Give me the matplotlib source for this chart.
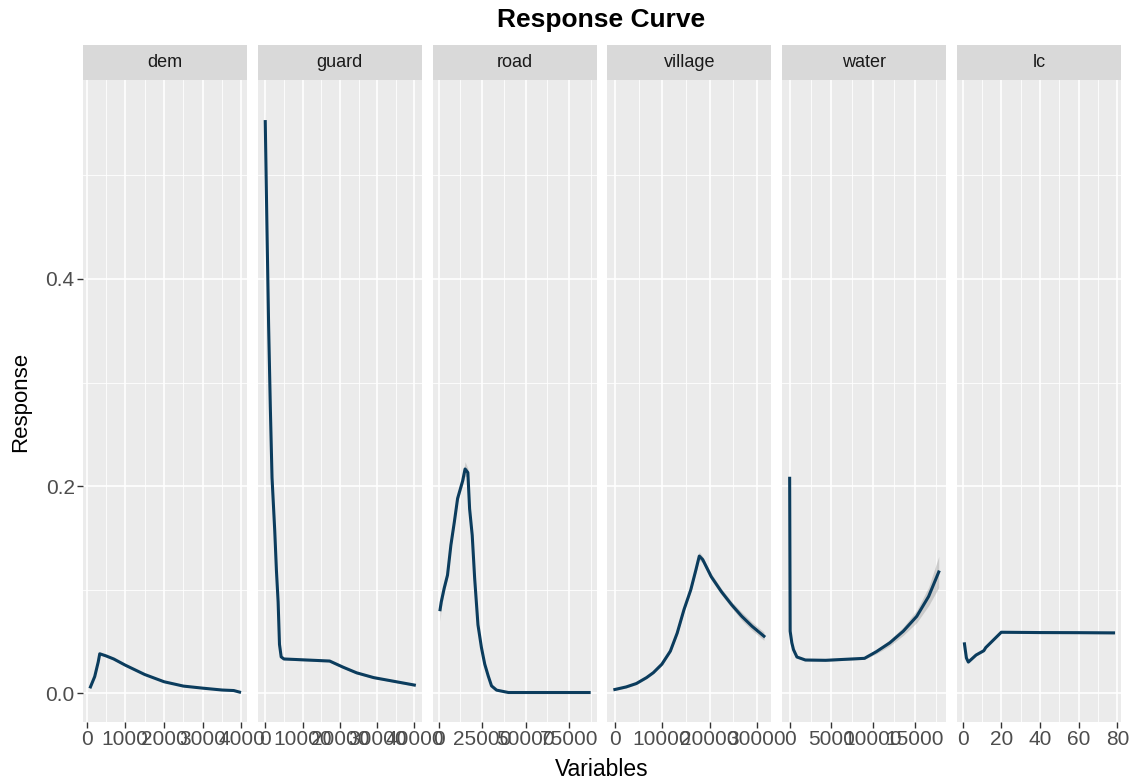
import matplotlib
matplotlib.use("Agg")
import matplotlib.pyplot as plt
import numpy as np

plt.rcParams["font.family"] = ["Liberation Sans", "DejaVu Sans"]

# panel names (facets)
panels = ["dem", "guard", "road", "village", "water", "lc"]

# response curves
dem_x = [100, 210, 300, 340, 500, 700, 1000, 1500, 2000, 2500, 3000, 3500, 3800, 3950]
dem_y = [0.006, 0.016, 0.030, 0.038, 0.036, 0.033, 0.027, 0.018, 0.011, 0.0068, 0.0048, 0.003, 0.0025, 0.001]
dem_se = [0.001, 0.001, 0.001, 0.001, 0.001, 0.001, 0.0008, 0.0006, 0.0005, 0.0005, 0.0004, 0.0004, 0.0004, 0.0004]

guard_x = [0, 450, 900, 1360, 1816, 2540, 3000, 3450, 3815, 4270, 5000, 17260, 20900, 24500, 29050, 33600, 39960]
guard_y = [0.552, 0.451, 0.355, 0.276, 0.208, 0.157, 0.118, 0.088, 0.047, 0.035, 0.033, 0.031, 0.025, 0.0196, 0.015, 0.012, 0.0078]
guard_se = [0.012, 0.006, 0.004, 0.003, 0.002, 0.002, 0.001, 0.001, 0.001, 0.001, 0.001, 0.001, 0.001, 0.001, 0.001, 0.001, 0.001]

road_x = [818, 1500, 3150, 5100, 7050, 9000, 10900, 13800, 15200, 16800, 17800, 19300, 20700, 22600,
          24600, 26500, 28500, 30400, 33300, 40100, 86500]
road_y = [0.0806, 0.088, 0.101, 0.114, 0.143, 0.165, 0.188, 0.205, 0.2165, 0.213, 0.178, 0.1525, 0.111, 0.066,
          0.044, 0.028, 0.0166, 0.007, 0.0029, 0.0006, 0.0006]
road_se = [0.011, 0.006, 0.004, 0.003, 0.003, 0.003, 0.003, 0.004, 0.007, 0.004, 0.002, 0.002, 0.002, 0.001,
           0.001, 0.001, 0.0005, 0.0005, 0.0005, 0.0003, 0.0003]

village_x = [0, 2400, 4550, 6700, 8140, 9940, 11730, 13170, 14600, 16040, 17120, 17840, 18560, 20360,
             22510, 24670, 26820, 28980, 31500]
village_y = [0.0035, 0.006, 0.0093, 0.015, 0.0198, 0.028, 0.0406, 0.058, 0.0806, 0.0998, 0.119, 0.1324, 0.129, 0.1125,
             0.098, 0.0854, 0.0742, 0.0646, 0.055]
village_se = [0.001, 0.001, 0.001, 0.001, 0.001, 0.0015, 0.0015, 0.002, 0.002, 0.002, 0.003, 0.004, 0.003, 0.003,
              0.003, 0.003, 0.004, 0.004, 0.004]

water_x = [0, 60, 260, 460, 870, 1880, 4300, 8960, 10370, 11990, 13600, 15220, 16640, 17850]
water_y = [0.2075, 0.0598, 0.0486, 0.042, 0.0349, 0.032, 0.0317, 0.0336, 0.040, 0.0486, 0.0598, 0.0742, 0.0934, 0.117]
water_se = [0.018, 0.004, 0.002, 0.001, 0.001, 0.001, 0.001, 0.001, 0.002, 0.003, 0.004, 0.006, 0.009, 0.015]

lc_x = [1, 2, 3, 7, 11, 12, 20, 40, 60, 78]
lc_y = [0.0476, 0.034, 0.030, 0.0368, 0.041, 0.044, 0.0588, 0.0585, 0.0584, 0.0582]
lc_se = [0.001, 0.001, 0.001, 0.001, 0.001, 0.001, 0.001, 0.001, 0.001, 0.001]

# axis breaks for each facet (free x scales)
x_breaks = {
    "dem": [0, 1000, 2000, 3000, 4000],
    "guard": [0, 10000, 20000, 30000, 40000],
    "road": [0, 25000, 50000, 75000],
    "village": [0, 10000, 20000, 30000],
    "water": [0, 5000, 10000, 15000],
    "lc": [0, 20, 40, 60, 80],
}
y_breaks = [0.0, 0.2, 0.4]
y_minor = [0.1, 0.3, 0.5]

curves = {
    "dem": (dem_x, dem_y, dem_se),
    "guard": (guard_x, guard_y, guard_se),
    "road": (road_x, road_y, road_se),
    "village": (village_x, village_y, village_se),
    "water": (water_x, water_y, water_se),
    "lc": (lc_x, lc_y, lc_se),
}

line_col = "#0B3C5D"
panel_bg = "#EBEBEB"
strip_bg = "#D9D9D9"
tick_col = "#4D4D4D"

W, H = 1135, 783
fig = plt.figure(figsize=(W / 100, H / 100), dpi=100)

# shared y range (ggplot style 5% expansion)
lo = min(min(np.array(y) - np.array(s)) for x, y, s in curves.values())
hi = max(max(np.array(y) + np.array(s)) for x, y, s in curves.values())
pad = (hi - lo) * 0.05
ylim = (lo - pad, hi + pad)

left0, pw, step = 83, 164, 174.8
top_px, bot_px, strip_h = 80, 722, 35

for i, name in enumerate(panels):
    x, y, se = (np.array(v, dtype=float) for v in curves[name])
    l = left0 + i * step
    ax = fig.add_axes([l / W, 1 - bot_px / H, pw / W, (bot_px - top_px) / H])
    ax.set_facecolor(panel_bg)
    for s in ax.spines.values():
        s.set_visible(False)

    xr = x.max() - x.min()
    xlim = (x.min() - 0.05 * xr, x.max() + 0.05 * xr)
    br = x_breaks[name]
    gap = br[1] - br[0]
    minor = [b + gap / 2 for b in [br[0] - gap] + br]
    minor = [m for m in minor if xlim[0] <= m <= xlim[1]]

    for m in minor:
        ax.axvline(m, color="white", lw=0.6, zorder=0)
    for b in br:
        if xlim[0] <= b <= xlim[1]:
            ax.axvline(b, color="white", lw=1.2, zorder=0)
    for m in y_minor:
        ax.axhline(m, color="white", lw=0.6, zorder=0)
    for b in y_breaks:
        ax.axhline(b, color="white", lw=1.2, zorder=0)

    ax.fill_between(x, y - se, y + se, color="#9A9A9A", alpha=0.4, lw=0, zorder=1)
    ax.plot(x, y, color=line_col, lw=2.2, zorder=2)

    ax.set_xlim(xlim)
    ax.set_ylim(ylim)
    ax.set_xticks(br)
    ax.set_xticklabels([str(b) for b in br])
    ax.tick_params(axis="x", length=4, width=1, color="#333333", labelcolor=tick_col,
                   labelsize=15, pad=2)
    if i == 0:
        ax.set_yticks(y_breaks)
        ax.set_yticklabels(["0.0", "0.2", "0.4"])
        ax.tick_params(axis="y", length=4, width=1, color="#333333", labelcolor=tick_col,
                       labelsize=15, pad=2)
    else:
        ax.set_yticks([])

    # facet strip
    sax = fig.add_axes([l / W, 1 - top_px / H, pw / W, strip_h / H])
    sax.set_facecolor(strip_bg)
    sax.set_xticks([])
    sax.set_yticks([])
    for s in sax.spines.values():
        s.set_visible(False)
    sax.text(0.5, 0.5, name, ha="center", va="center", fontsize=13, color="#1A1A1A",
             transform=sax.transAxes)

fig.text((83 + 1120) / 2 / W, 1 - 20 / H, "Response Curve", ha="center", va="center",
         fontsize=19, fontweight="bold", color="black")
fig.text((83 + 1120) / 2 / W, 1 - 769 / H, "Variables", ha="center", va="center",
         fontsize=16.5, color="black")
fig.text(21 / W, 1 - 402 / H, "Response", ha="center", va="center", rotation=90,
         fontsize=16, color="black")

fig.savefig("out.png", dpi=100, facecolor="white")
